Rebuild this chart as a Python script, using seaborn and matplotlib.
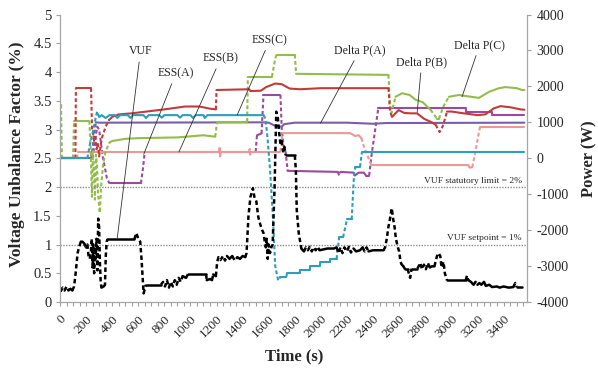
import numpy as np
import pandas as pd
import matplotlib
matplotlib.use('Agg')
import matplotlib.pyplot as plt
from matplotlib.ticker import MultipleLocator
import seaborn as sns

sns.set_style('white')
plt.rcParams['font.family'] = ['Liberation Serif', 'DejaVu Serif']
plt.rcParams['axes.unicode_minus'] = False

# VUF (%)
vuf = [(5, 0.18), (20, 0.25), (35, 0.2), (50, 0.27), (65, 0.2), (80, 0.23), (95, 0.2), (108, 0.27),
       (120, 0.5), (135, 0.85), (146, 0.95), (160, 1.05), (172, 1.05), (185, 1.02), (200, 0.95),
       (210, 1.0), (220, 0.78), (228, 0.75), (236, 0.85), (244, 1.1), (250, 0.6), (256, 1.0),
       (262, 0.5), (268, 0.95), (274, 0.75), (280, 1.1), (287, 0.55), (293, 1.45), (300, 1.3),
       (306, 0.7), (312, 0.35), (318, 0.25), (335, 0.27), (345, 0.3), (351, 0.8), (358, 1.05),
       (364, 1.09), (570, 1.09), (585, 1.2), (600, 1.1), (615, 1.05), (625, 0.75), (641, 0.15),
       (659, 0.3), (774, 0.3), (790, 0.35), (805, 0.27), (820, 0.38), (835, 0.25), (850, 0.35),
       (865, 0.27), (880, 0.38), (895, 0.3), (910, 0.42), (925, 0.35), (940, 0.45), (966, 0.42),
       (980, 0.48), (1120, 0.48), (1125, 0.38), (1150, 0.4), (1165, 0.38), (1175, 0.48), (1195, 0.45),
       (1205, 0.7), (1215, 0.78), (1230, 0.73), (1250, 0.8), (1265, 0.72), (1280, 0.8), (1300, 0.75),
       (1320, 0.8), (1340, 0.72), (1360, 0.78), (1380, 0.75), (1400, 0.8), (1420, 0.78), (1430, 0.85),
       (1445, 1.5), (1460, 1.83), (1479, 1.98), (1490, 1.83), (1505, 1.75), (1520, 1.48), (1535, 1.35),
       (1550, 1.25), (1560, 1.2), (1570, 1.05), (1578, 0.95), (1585, 1.1), (1592, 0.75), (1600, 1.0),
       (1610, 0.85), (1620, 0.95), (1630, 1.0), (1645, 2.0), (1658, 3.31), (1670, 3.2), (1680, 2.95),
       (1690, 2.75), (1700, 2.8), (1710, 2.62), (1720, 2.7), (1730, 2.55), (1800, 2.55), (1808, 2.3),
       (1815, 1.6), (1830, 1.2), (1850, 0.93), (1870, 0.88), (1885, 0.95), (1900, 0.9), (1915, 0.96),
       (1930, 0.88), (1945, 0.95), (1960, 0.9), (1975, 0.96), (1990, 0.9), (2050, 0.93), (2100, 0.93),
       (2120, 0.95), (2135, 0.85), (2150, 0.95), (2165, 0.85), (2180, 0.95), (2200, 0.88), (2215, 0.96),
       (2230, 0.86), (2250, 0.93), (2270, 0.88), (2300, 0.9), (2320, 0.95), (2335, 0.88), (2350, 0.95),
       (2365, 0.88), (2400, 0.9), (2480, 0.9), (2492, 0.95), (2505, 1.1), (2517, 1.3), (2530, 1.45),
       (2543, 1.63), (2555, 1.43), (2565, 1.3), (2575, 1.1), (2590, 0.95), (2600, 0.88), (2610, 0.7),
       (2620, 0.65), (2633, 0.62), (2645, 0.57), (2665, 0.57), (2684, 0.42), (2695, 0.58), (2740, 0.58),
       (2761, 0.68), (2775, 0.57), (2790, 0.65), (2805, 0.57), (2820, 0.68), (2835, 0.6), (2850, 0.62),
       (2870, 0.62), (2890, 0.8), (2902, 0.85), (2915, 0.8), (2925, 0.6), (2940, 0.7), (2950, 0.5),
       (2966, 0.38), (3110, 0.38), (3120, 0.46), (3130, 0.38), (3150, 0.35), (3170, 0.3), (3185, 0.35),
       (3200, 0.3), (3215, 0.33), (3230, 0.3), (3250, 0.35), (3265, 0.28), (3290, 0.3), (3312, 0.26),
       (3350, 0.27), (3370, 0.25), (3400, 0.27), (3440, 0.25), (3475, 0.26), (3490, 0.33), (3500, 0.26),
       (3543, 0.26)]

# powers (W)
ess_a = [(0, 0), (250, 0), (285, 880), (300, 800), (330, 0), (360, -560), (380, -700), (620, -700),
         (635, -320), (650, 180), (1500, 180), (1510, 640), (1545, 690), (1560, 1760), (1690, 1760),
         (1700, 800), (1715, 320), (1730, 160), (1745, -350), (2130, -380), (2140, -480), (2150, -380),
         (2250, -400), (2260, -480), (2290, -400), (2330, -400), (2345, -480), (2370, -480), (2385, 0),
         (2410, 640), (2440, 1390), (3110, 1390), (3115, 1280), (3310, 1280), (3315, 1190), (3560, 1190)]

ess_b = [(0, 0), (130, 0), (140, 180), (1220, 180), (1224, 330), (1228, 20), (1232, 180), (1450, 180),
         (1454, 260), (1458, 100), (1462, 180), (1690, 180), (1705, 700), (2220, 700), (2235, 680),
         (2260, 620), (2290, 640), (2310, 560), (2330, 320), (2360, 50), (2385, -180), (2395, -190),
         (3130, -190), (3140, -260), (3160, -250), (3180, 100), (3200, 500), (3220, 880), (3560, 880)]

ess_c = [(0, 0), (210, 0), (230, 400), (250, 700), (275, 1150), (285, 1300), (300, 1150), (320, 1200),
         (350, 1120), (380, 1200), (420, 1200), (440, 1120), (460, 1200), (520, 1200), (540, 1120),
         (560, 1200), (640, 1200), (660, 1120), (680, 1200), (760, 1200), (780, 1130), (800, 1200),
         (900, 1200), (920, 1130), (940, 1200), (1000, 1200), (1020, 1120), (1040, 1200), (1100, 1200),
         (1110, 1120), (1130, 1200), (1560, 1200), (1575, 1100), (1590, 600), (1610, -300), (1630, -1500),
         (1650, -3000), (1672, -3400), (1690, -3300), (1735, -3300), (1740, -3200), (1838, -3200),
         (1840, -3100), (1915, -3100), (1918, -3000), (1992, -3000), (1995, -2900), (2069, -2900),
         (2072, -2800), (2120, -2800), (2140, -2200), (2170, -2200), (2200, -1700), (2236, -1700),
         (2255, -400), (2265, -240), (2300, -240), (2315, 180), (3560, 180)]

dp_a = [(0, 0), (240, 0), (260, 600), (275, 1000), (300, 990), (1550, 1000), (1600, 990), (1650, 900),
        (1700, 880), (1720, 950), (1800, 990), (2200, 990), (2400, 960), (2500, 980), (3560, 990)]

dp_b = [(0, 0), (118, 0), (122, 1950), (238, 1950), (246, 800), (254, 700), (262, 450), (270, 650),
        (280, 250), (290, 400), (300, 50), (320, 550), (350, 880), (377, 1070), (400, 1150), (450, 1220),
        (550, 1250), (800, 1360), (960, 1440), (1070, 1440), (1150, 1380), (1195, 1360), (1200, 1900),
        (1450, 1920), (1460, 1870), (1540, 1880), (1580, 1980), (1650, 2080), (1700, 2060), (1760, 1940),
        (1840, 1920), (2000, 1950), (2518, 1950), (2530, 1300), (2545, 1150), (2595, 1340), (2640, 1260),
        (2690, 1250), (2737, 1250), (2790, 1100), (2850, 1000), (2880, 930), (2910, 730), (2935, 900),
        (2967, 1300), (3000, 1300), (3095, 1250), (3200, 1200), (3260, 1220), (3326, 1390), (3377, 1450),
        (3450, 1420), (3531, 1360), (3560, 1350)]

dp_c = [(0, 1490), (8, 1490), (15, 0), (100, 0), (108, 1040), (225, 1040), (235, 300), (245, -1070),
        (252, 200), (260, -300), (268, -1150), (276, 100), (284, -200), (292, -1000), (305, -1520),
        (315, -800), (330, -200), (350, 200), (380, 440), (400, 480), (500, 540), (600, 560), (900, 580),
        (1100, 640), (1190, 600), (1205, 1020), (1435, 1020), (1440, 2270), (1625, 2270), (1650, 2780),
        (1660, 2880), (1800, 2880), (1810, 2350), (2518, 2320), (2530, 1440), (2540, 1250), (2572, 1710),
        (2623, 1810), (2680, 1760), (2725, 1630), (2780, 1560), (2840, 1350), (2891, 1100), (2905, 1100),
        (2940, 1450), (2981, 1710), (3058, 1760), (3211, 1680), (3290, 1850), (3365, 1950), (3416, 1980),
        (3500, 1950), (3543, 1900), (3560, 1900)]

left_ticks = [0, 0.5, 1, 1.5, 2, 2.5, 3, 3.5, 4, 4.5, 5]
right_ticks = [-4000, -3000, -2000, -1000, 0, 1000, 2000, 3000, 4000]
time_ticks = list(range(0, 3401, 200))
limits = [2, 1]

T_MAX = 3580
AX_W, AX_H = 467, 287.5   # plot area in pixels


def split_runs(pts, yspan):
    # flat pieces drawn solid, steep pieces dashed (Excel dash-marker look)
    t = np.array([p[0] for p in pts], float)
    v = np.array([p[1] for p in pts], float)
    dx = np.diff(t) / T_MAX * AX_W
    dy = np.diff(v) / yspan * AX_H
    steep = np.abs(dy) > 1.3 * np.abs(dx)
    run = 0
    kind = 'steep' if steep[0] else 'flat'
    rows = [(t[0], v[0], run, kind)]
    for i, s in enumerate(steep):
        if i > 0 and s != steep[i - 1]:
            run += 1
            kind = 'steep' if s else 'flat'
            rows.append((t[i], v[i], run, kind))
        rows.append((t[i + 1], v[i + 1], run, kind))
    return pd.DataFrame(rows, columns=['t', 'v', 'run', 'kind'])


def draw(ax, pts, color, yspan, lw=1.5):
    df = split_runs(pts, yspan)
    sns.lineplot(data=df, x='t', y='v', units='run', style='kind', estimator=None, sort=False,
                 dashes={'flat': '', 'steep': (1.8, 1.2)}, color=color, lw=lw,
                 legend=False, ax=ax)


fig = plt.figure(figsize=(5.98, 3.74), dpi=100)
ax = fig.add_axes([0.1003, 0.1925, 0.781, 0.7687])
ax2 = ax.twinx()

# power series on the right axis
draw(ax2, ess_a, '#9B4A9E', 8000)
draw(ax2, ess_b, '#E99A98', 8000)
draw(ax2, dp_a, '#7A5FA6', 8000)
draw(ax2, dp_c, '#93BD4A', 8000)
draw(ax2, dp_b, '#C23B3B', 8000)
draw(ax2, ess_c, '#2E9DB8', 8000)

# VUF on the left axis, kept on top
ax.set_zorder(ax2.get_zorder() + 1)
ax.patch.set_visible(False)
for lim in limits:
    ax.axhline(lim, color='#8c8c8c', lw=1.0, ls=(0, (1, 1)), zorder=1)
draw(ax, vuf, 'black', 5, lw=1.8)

ax.text(3540, 2.03, 'VUF statutory limit = 2%', ha='right', va='bottom', fontsize=6.8)
ax.text(3540, 1.04, 'VUF setpoint = 1%', ha='right', va='bottom', fontsize=6.8)

notes = [('VUF', (617, 4.36), (439, 1.11)),
         ('ESS(A)', (889, 3.98), (642, 2.57)),
         ('ESS(B)', (1233, 4.24), (912, 2.61)),
         ('ESS(C)', (1609, 4.56), (1358, 3.25)),
         ('Delta P(A)', (2298, 4.38), (1997, 3.11)),
         ('Delta P(B)', (2773, 4.17), (2738, 3.3)),
         ('Delta P(C)', (3217, 4.47), (3082, 3.57))]
for txt, pos, tip in notes:
    ax.annotate(txt, xy=tip, xytext=pos, ha='center', va='center', fontsize=8.5,
                arrowprops=dict(arrowstyle='-', lw=0.6, color='#333333', shrinkA=1, shrinkB=0))

ax.set_xlim(0, T_MAX)
ax.set_ylim(0, 5)
ax2.set_ylim(-4000, 4000)

ax.set_xticks(time_ticks)
ax.set_xticklabels([str(x) for x in time_ticks], rotation=45, ha='right',
                   rotation_mode='anchor', fontsize=9.5)
ax.xaxis.set_minor_locator(MultipleLocator(50))
ax.set_yticks(left_ticks)
ax.set_yticklabels(['{:g}'.format(y) for y in left_ticks], fontsize=10.5)
ax2.set_yticks(right_ticks)
ax2.set_yticklabels([str(y) for y in right_ticks], fontsize=10)

ax.tick_params(axis='x', which='both', direction='out', length=3, width=0.8,
               color='#a0a0a0', bottom=True, pad=5)
ax.tick_params(axis='y', direction='out', length=3, width=0.8, color='#a0a0a0', left=True, pad=3)
ax2.tick_params(axis='y', direction='out', length=3, width=0.8, color='#a0a0a0', right=True, pad=4)

for a in (ax, ax2):
    for side, sp in a.spines.items():
        sp.set_color('#a6a6a6')
        sp.set_linewidth(0.9)
    a.spines['top'].set_visible(False)
ax.spines['right'].set_visible(False)
ax2.spines['left'].set_visible(False)
ax2.spines['bottom'].set_visible(False)

ax.set_xlabel('Time (s)', fontsize=12, fontweight='bold')
ax.set_ylabel('Voltage Unbalance Factor (%)', fontsize=12.5, fontweight='bold')
ax2.set_ylabel('Power (W)', fontsize=12, fontweight='bold', rotation=90)
ax.xaxis.set_label_coords(0.501, -0.162)
ax.yaxis.set_label_coords(-0.074, 0.513)
ax2.yaxis.set_label_coords(1.116, 0.5)

fig.savefig('out.png', dpi=100)
